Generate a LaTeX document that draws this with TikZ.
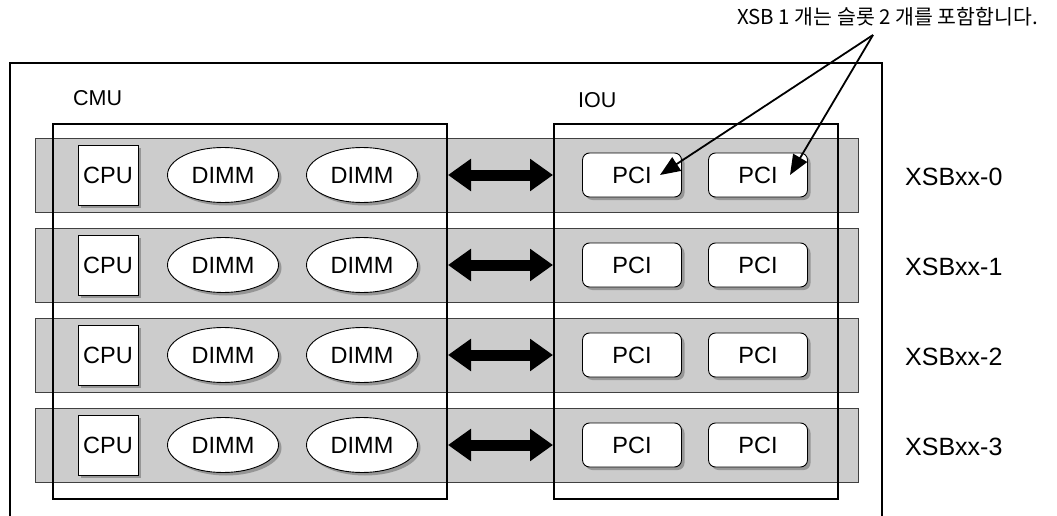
\documentclass[tikz,border=0pt]{standalone}
\usepackage{fontspec}
\setmainfont{Liberation Sans}
\newfontfamily\krfont{Noto Sans CJK KR}
\usepackage{tikz}
\usetikzlibrary{positioning}
\usetikzlibrary{shapes.geometric}
\usetikzlibrary{shadows}
\usetikzlibrary{arrows.meta}
\usepackage{xcolor}

\definecolor{slotgray}{RGB}{204,204,204}
\definecolor{shadegray}{RGB}{150,150,150}
\newcommand{\lblsize}{\fontsize{23.5}{27}\selectfont}
\newcommand{\unitsize}{\fontsize{21.5}{25}\selectfont}
\newcommand{\xsbsize}{\fontsize{25}{29}\selectfont}

\tikzset{
  slot/.style={draw=black!75, fill=slotgray, line width=0.9pt},
  unitbox/.style={draw, line width=2pt, inner sep=0pt},
  boxshade/.style={drop shadow={shadow xshift=3pt, shadow yshift=-3pt, fill=shadegray, opacity=1}},
  cpubox/.style={draw, fill=white, line width=0.9pt, minimum width=60pt, minimum height=60pt, inner sep=0pt, boxshade, font=\lblsize},
  dimm/.style={ellipse, draw, fill=white, line width=0.9pt, minimum width=111pt, minimum height=55pt, inner sep=0pt, boxshade, font=\lblsize},
  pcibox/.style={draw, fill=white, line width=0.9pt, rounded corners=7pt, minimum width=99pt, minimum height=44pt, inner sep=0pt, boxshade, font=\lblsize},
  lbl/.style={anchor=west, inner sep=0pt, font=\unitsize},
  xsblbl/.style={anchor=west, inner sep=0pt, font=\xsbsize},
  link/.style={line width=11pt, {Triangle[length=23pt,width=31pt]}-{Triangle[length=23pt,width=31pt]}},
  pointer/.style={line width=1.8pt, -{Triangle[length=20pt,width=16pt]}}
}

\begin{document}
\begin{tikzpicture}[x=1pt, y=-1pt]

\useasboundingbox (0,0) rectangle (1057,516);

% outer frame, open at the bottom
\draw[line width=2pt] (10,516)--(10,63)--(882,63)--(882,516);

\begin{scope}[yshift=0pt] {
\draw[slot] (35,138) rectangle (858,212);
\node[cpubox] (cpu0) at (108,175) {CPU};
\node[dimm] (dimm0a) at (223,175) {DIMM};
\node[dimm] (dimm0b) at (362,175) {DIMM};
\node[pcibox] (pci0a) at (632,175) {PCI};
\node[pcibox] (pci0b) at (758,175) {PCI};
\node[xsblbl] (xsb0) at (905,177) {XSBxx-0};
}\end{scope}

\begin{scope}[yshift=-90pt] {
\draw[slot] (35,138) rectangle (858,212);
\node[cpubox] (cpu1) at (108,175) {CPU};
\node[dimm] (dimm1a) at (223,175) {DIMM};
\node[dimm] (dimm1b) at (362,175) {DIMM};
\node[pcibox] (pci1a) at (632,175) {PCI};
\node[pcibox] (pci1b) at (758,175) {PCI};
\node[xsblbl] (xsb1) at (905,177) {XSBxx-1};
}\end{scope}

\begin{scope}[yshift=-180pt] {
\draw[slot] (35,138) rectangle (858,212);
\node[cpubox] (cpu2) at (108,175) {CPU};
\node[dimm] (dimm2a) at (223,175) {DIMM};
\node[dimm] (dimm2b) at (362,175) {DIMM};
\node[pcibox] (pci2a) at (632,175) {PCI};
\node[pcibox] (pci2b) at (758,175) {PCI};
\node[xsblbl] (xsb2) at (905,177) {XSBxx-2};
}\end{scope}

\begin{scope}[yshift=-270pt] {
\draw[slot] (35,138) rectangle (858,212);
\node[cpubox] (cpu3) at (108,175) {CPU};
\node[dimm] (dimm3a) at (223,175) {DIMM};
\node[dimm] (dimm3b) at (362,175) {DIMM};
\node[pcibox] (pci3a) at (632,175) {PCI};
\node[pcibox] (pci3b) at (758,175) {PCI};
\node[xsblbl] (xsb3) at (905,177) {XSBxx-3};
}\end{scope}

% units over the slots
\node[unitbox, minimum width=394pt, minimum height=375pt] (cmu) at (250,311.5) {};
\node[unitbox, minimum width=284pt, minimum height=375pt] (iou) at (696,311.5) {};
\node[lbl] (cmulabel) at (73,98) {CMU};
\node[lbl] (ioulabel) at (578,100) {IOU};

\draw[link] (cmu.east |- cpu0) -- (iou.west |- cpu0);
\draw[link] (cmu.east |- cpu1) -- (iou.west |- cpu1);
\draw[link] (cmu.east |- cpu2) -- (iou.west |- cpu2);
\draw[link] (cmu.east |- cpu3) -- (iou.west |- cpu3);

\node[anchor=east, inner sep=0pt, font=\krfont\fontsize{20.5}{24}\selectfont] (note) at (1038,17) {XSB 1 개는 슬롯 2 개를 포함합니다.};
\coordinate (notept) at (873,35);
\draw[pointer] (notept) -- ([xshift=28pt]pci0a.center);
\draw[pointer] (notept) -- ([xshift=32pt]pci0b.center);

\end{tikzpicture}
\end{document}
